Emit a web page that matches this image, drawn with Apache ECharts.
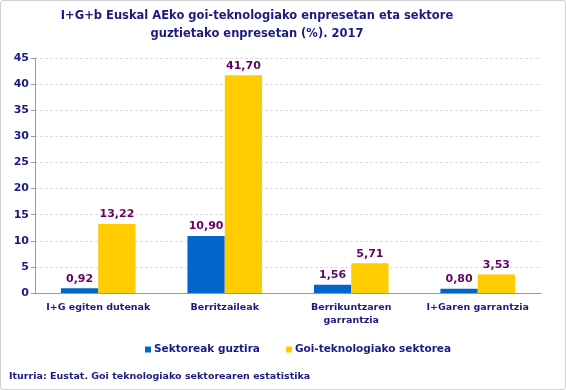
<!DOCTYPE html>
<html><head><meta charset="utf-8">
<script src="https://cdn.jsdelivr.net/npm/echarts@6/dist/echarts.min.js"></script>
<style>html,body{margin:0;padding:0;background:#fff}
#c{width:564px;height:388px;border:1px solid #d0d0d0;border-radius:3px}</style>
</head><body><div id="c"></div>
<script>
const categories = ['I+G egiten dutenak', 'Berritzaileak', 'Berrikuntzaren\ngarrantzia', 'I+Garen garrantzia'];
const totalSectors = [0.92, 10.90, 1.56, 0.80];
const highTech = [13.22, 41.70, 5.71, 3.53];
const seriesNames = ['Sektoreak guztira', 'Goi-teknologiako sektorea'];
const navy = '#1a1a80';
const fmt = p => p.value.toFixed(2).replace('.', ',');
const chart = echarts.init(document.getElementById('c'));
chart.setOption({
  animation: false,
  textStyle: {fontFamily: 'DejaVu Sans'},
  title: {
    text: 'I+G+b Euskal AEko goi-teknologiako enpresetan eta sektore\nguztietako enpresetan (%). 2017',
    left: 256, top: 6, textAlign: 'center', padding: 0,
    textStyle: {color: navy, fontSize: 11.5, fontWeight: 'bold', lineHeight: 18, fontFamily: 'DejaVu Sans'}
  },
  grid: {left: 34, right: 24, top: 57, bottom: 96},
  legend: {
    data: seriesNames, top: 338, left: 139, itemWidth: 6, itemHeight: 6, icon: 'rect', itemGap: 26,
    textStyle: {color: navy, fontSize: 10.5, fontWeight: 'bold', padding: [0, 0, 0, -2]}
  },
  graphic: [{type: 'text', left: 8, top: 371, style: {text: 'Iturria: Eustat. Goi teknologiako sektorearen estatistika', fill: navy, font: 'bold 9.5px DejaVu Sans'}}],
  xAxis: {
    type: 'category', data: categories,
    axisLine: {lineStyle: {color: '#999'}},
    axisTick: {length: 5, lineStyle: {color: '#999'}},
    axisLabel: {color: navy, fontSize: 9.5, fontWeight: 'bold', lineHeight: 13, margin: 8, interval: 0}
  },
  yAxis: {
    type: 'value', min: 0, max: 45, interval: 5,
    axisLine: {show: true, lineStyle: {color: '#999'}},
    axisTick: {show: true, length: 4, lineStyle: {color: '#999'}},
    splitLine: {lineStyle: {color: '#ddd', type: [3, 2]}},
    axisLabel: {color: navy, fontSize: 11, fontWeight: 'bold', margin: 6}
  },
  series: [
    {name: seriesNames[0], type: 'bar', data: totalSectors, barGap: 0, barCategoryGap: '41%',
     itemStyle: {color: '#0066CC'},
     label: {show: true, position: 'top', formatter: fmt, color: '#660066', fontWeight: 'bold', fontSize: 11, distance: 4}},
    {name: seriesNames[1], type: 'bar', data: highTech,
     itemStyle: {color: '#FFCC00'},
     label: {show: true, position: 'top', formatter: fmt, color: '#660066', fontWeight: 'bold', fontSize: 11, distance: 4}}
  ]
});
</script></body></html>
